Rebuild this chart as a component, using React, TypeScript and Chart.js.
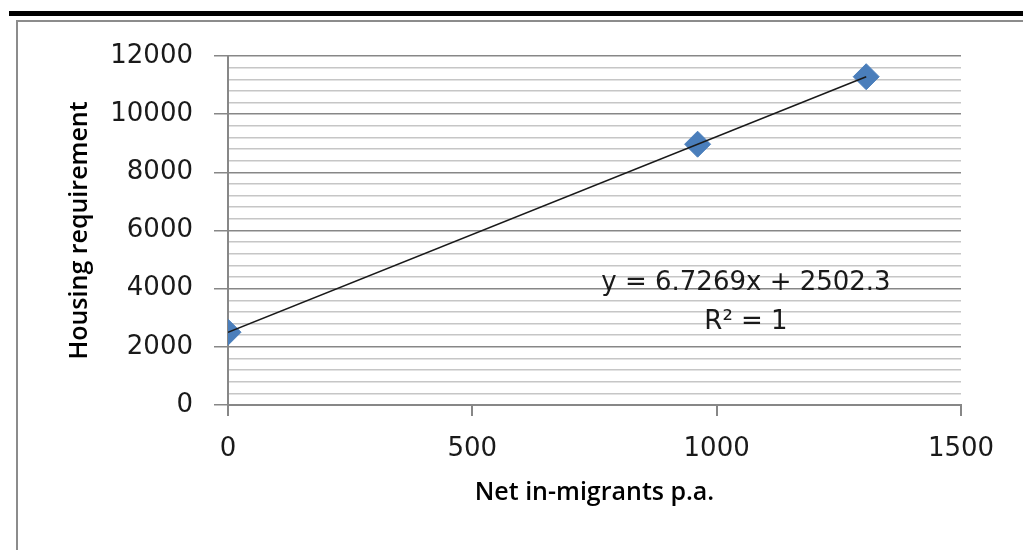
import React, { useEffect, useRef } from "react";
import { Chart, registerables } from "chart.js";

Chart.register(...registerables);

const migrantsX = [0, 961, 1306];
const housingY = [2502, 8967, 11288];
const trendX = [0, 1306];
const trendY = [2502.3, 11287.6];
const xTicks = [0, 500, 1000, 1500];
const yMajorStep = 2000;
const yMinorStep = 400;
const equationText = "y = 6.7269x + 2502.3";
const rSquaredText = "R² = 1";
const xTitle = "Net in-migrants p.a.";
const yTitle = "Housing requirement";

export default function App() {
  const ref = useRef<HTMLCanvasElement | null>(null);

  useEffect(() => {
    if (!ref.current) return;
    const chart = new Chart(ref.current, {
      type: "scatter",
      data: {
        datasets: [
          {
            label: "trend",
            data: trendX.map((x, i) => ({ x, y: trendY[i] })),
            showLine: true,
            borderColor: "#1a1a1a",
            borderWidth: 1.5,
            pointRadius: 0,
            fill: false,
          },
          {
            label: "Housing requirement",
            data: migrantsX.map((x, i) => ({ x, y: housingY[i] })),
            pointStyle: "rectRot",
            pointRadius: 13,
            pointHoverRadius: 13,
            backgroundColor: "#4A7EBB",
            borderColor: "#4A7EBB",
            borderWidth: 1,
          },
        ],
      },
      options: {
        responsive: false,
        animation: false,
        devicePixelRatio: 1,
        layout: { padding: { left: 65, top: 56, right: 62, bottom: 42 } },
        plugins: { legend: { display: false }, tooltip: { enabled: false } },
        scales: {
          x: {
            type: "linear",
            min: 0,
            max: 1500,
            afterFit: (s: any) => {
              s.height = 103;
            },
            afterBuildTicks: (s: any) => {
              s.ticks = xTicks.map((v) => ({ value: v }));
            },
            ticks: {
              stepSize: 500,
              padding: 18,
              color: "#1a1a1a",
              font: { family: "'DejaVu Sans'", size: 26 },
              maxRotation: 0,
              callback: (v: any) => String(v),
            },
            grid: {
              drawOnChartArea: false,
              drawTicks: true,
              tickLength: 11,
              tickColor: "#878787",
              lineWidth: 2,
            },
            border: { color: "#878787", width: 2 },
            title: {
              display: true,
              text: xTitle,
              color: "#000",
              padding: 0,
              font: { family: "'Open Sans'", size: 25, weight: "600" as any },
            },
          },
          y: {
            type: "linear",
            min: 0,
            max: 12000,
            afterFit: (s: any) => {
              s.width = 228 - 65;
            },
            ticks: {
              stepSize: yMinorStep,
              autoSkip: false,
              maxTicksLimit: 100,
              padding: 21,
              color: "#1a1a1a",
              font: { family: "'DejaVu Sans'", size: 26 },
              callback: (v: any) => (Number(v) % yMajorStep === 0 ? String(v) : ""),
            },
            grid: {
              tickLength: 14,
              lineWidth: 1.5,
              color: (c: any) =>
                c.tick && c.tick.value % yMajorStep === 0 ? "#878787" : "#c6c6c6",
              tickColor: (c: any) =>
                c.tick && c.tick.value % yMajorStep === 0 ? "#878787" : "rgba(0,0,0,0)",
            },
            border: { color: "#878787", width: 2 },
            title: {
              display: true,
              text: yTitle,
              color: "#000",
              padding: 0,
              font: { family: "'Open Sans'", size: 25, weight: "600" as any },
            },
          },
        },
      },
    });
    return () => chart.destroy();
  }, []);

  const eqStyle: React.CSSProperties = {
    position: "absolute",
    left: 546,
    width: 400,
    textAlign: "center",
    fontFamily: "'DejaVu Sans'",
    fontSize: 26,
    lineHeight: 1,
    color: "#1a1a1a",
    whiteSpace: "nowrap",
  };

  return (
    <div
      style={{
        position: "absolute",
        left: 0,
        top: 0,
        width: 1023,
        height: 550,
        overflow: "hidden",
        background: "#fff",
      }}
    >
      <div
        style={{
          position: "absolute",
          left: 9,
          top: 11,
          width: 1100,
          height: 5,
          background: "#000",
        }}
      />
      <div
        style={{
          position: "absolute",
          left: 16,
          top: 20,
          width: 1200,
          height: 700,
          border: "2px solid #8c8c8c",
        }}
      />
      <canvas
        ref={ref}
        width={1023}
        height={550}
        style={{ position: "absolute", left: 0, top: 0, width: 1023, height: 550 }}
      />
      <div style={{ ...eqStyle, top: 268 }}>{equationText}</div>
      <div style={{ ...eqStyle, top: 307 }}>{rSquaredText}</div>
    </div>
  );
}
